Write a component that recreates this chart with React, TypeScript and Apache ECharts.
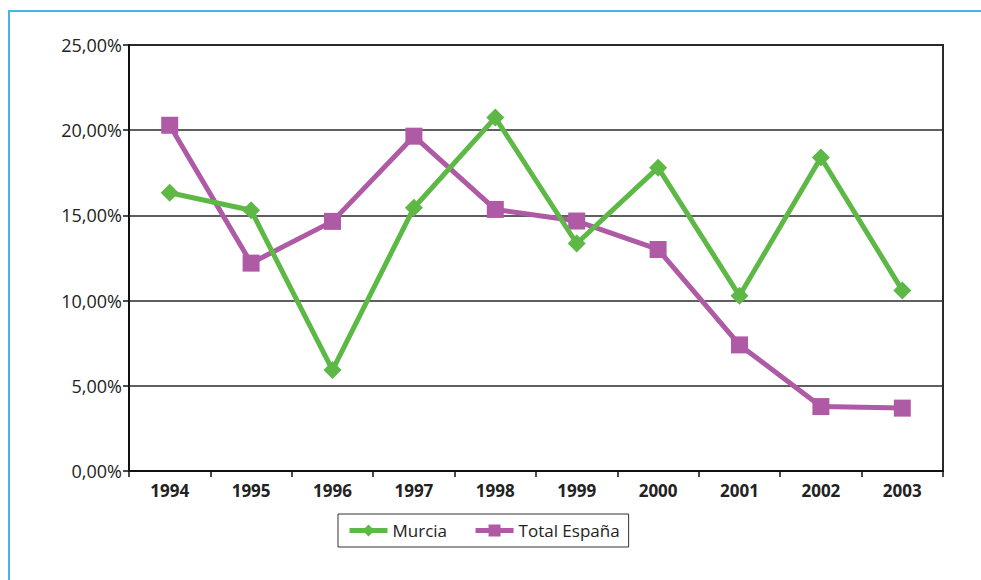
import React, { useEffect, useRef } from "react";
import * as echarts from "echarts";

const categories = ["1994", "1995", "1996", "1997", "1998", "1999", "2000", "2001", "2002", "2003"];
const murcia = [16.33, 15.3, 5.92, 15.45, 20.74, 13.35, 17.8, 10.28, 18.4, 10.6];
const espana = [20.29, 12.2, 14.65, 19.65, 15.35, 14.67, 13.0, 7.4, 3.78, 3.69];
const seriesNames = ["Murcia", "Total España"];

const GREEN = "#5db846";
const PURPLE = "#ae5aa5";
const FONT = "'Open Sans', 'Noto Sans', sans-serif";

export default function App() {
  const ref = useRef<HTMLDivElement>(null);
  useEffect(() => {
    if (!ref.current) return;
    const chart = echarts.init(ref.current, null, { renderer: "svg" });
    chart.setOption({
      animation: false,
      backgroundColor: "#ffffff",
      textStyle: { fontFamily: FONT },
      graphic: [
        {
          type: "rect",
          shape: { x: 9, y: 11, width: 1100, height: 700 },
          style: { fill: "none", stroke: "#45b5e6", lineWidth: 2 },
          silent: true,
          z: 0,
        },
      ],
      grid: {
        left: 129,
        top: 45,
        width: 814,
        height: 426,
        show: true,
        borderColor: "#2a2a2a",
        borderWidth: 2,
        backgroundColor: "transparent",
      },
      legend: {
        left: 338,
        top: 514,
        orient: "horizontal",
        padding: [8, 9, 8, 9],
        borderColor: "#333",
        borderWidth: 1,
        itemWidth: 38,
        itemHeight: 15,
        itemGap: 26,
        lineStyle: { width: 5 },
        textStyle: { fontFamily: FONT, fontSize: 17, color: "#222" },
        data: seriesNames,
      },
      xAxis: {
        type: "category",
        data: categories,
        boundaryGap: true,
        axisLine: { show: true, lineStyle: { color: "#111", width: 2 } },
        axisTick: { show: true, alignWithLabel: false, length: 6, lineStyle: { color: "#111", width: 1.5 } },
        axisLabel: { fontFamily: FONT, fontSize: 17, fontWeight: "bold", color: "#222", margin: 11 },
        splitLine: { show: false },
      },
      yAxis: {
        type: "value",
        min: 0,
        max: 25,
        interval: 5,
        axisLine: { show: true, lineStyle: { color: "#111", width: 2 } },
        axisTick: { show: true, length: 6, lineStyle: { color: "#111", width: 1.5 } },
        axisLabel: {
          fontFamily: FONT,
          fontSize: 18,
          color: "#222",
          margin: 7,
          formatter: (v: number) => v.toFixed(2).replace(".", ",") + "%",
        },
        splitLine: { show: true, lineStyle: { color: "#2a2a2a", width: 1.5 } },
      },
      series: [
        {
          name: seriesNames[0],
          type: "line",
          data: murcia,
          symbol: "diamond",
          symbolSize: 18,
          lineStyle: { color: GREEN, width: 5 },
          itemStyle: { color: GREEN },
          z: 3,
        },
        {
          name: seriesNames[1],
          type: "line",
          data: espana,
          symbol: "rect",
          symbolSize: 17,
          lineStyle: { color: PURPLE, width: 5 },
          itemStyle: { color: PURPLE },
          z: 2,
        },
      ],
    });
    return () => chart.dispose();
  }, []);
  return (
    <div
      ref={ref}
      style={{ position: "fixed", left: 0, top: 0, width: 981, height: 580, background: "#fff" }}
    />
  );
}
